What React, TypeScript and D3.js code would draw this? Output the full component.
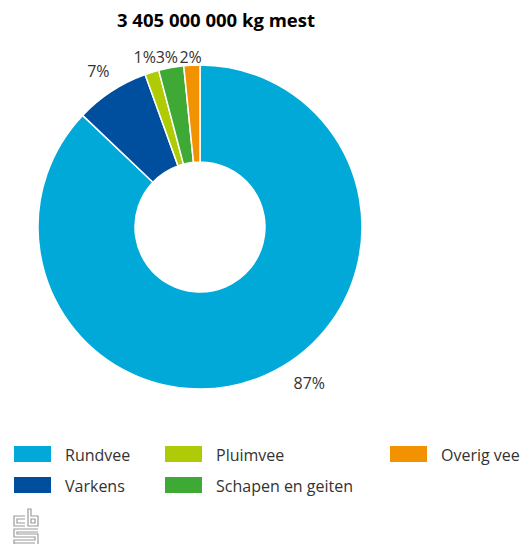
import React, { useEffect, useRef } from "react";
import * as d3 from "d3";

// mest per diercategorie (aandeel in %)
const categories = ["Rundvee", "Varkens", "Pluimvee", "Schapen en geiten", "Overig vee"];
const shares = [87.1, 7.4, 1.4, 2.5, 1.6];
const colors = ["#00a9d8", "#004f9f", "#afcb05", "#3ea934", "#f39200"];
const title = "3 405 000 000 kg mest";

// legend layout: order in which they appear (column-wise)
const legendOrder = [0, 1, 2, 3, 4];

const W = 529;
const H = 544;
const FONT = "'Open Sans', 'Noto Sans', sans-serif";

function App() {
  const svgRef = useRef<SVGSVGElement>(null);

  useEffect(() => {
    const svg = d3.select(svgRef.current);
    svg.selectAll("*").remove();

    const cx = 200;
    const cy = 227;
    const outer = 162;
    const inner = 65;
    const labelR = 186;
    const maxLabelDy = 156;
    const minLabelDy = -170;

    // title
    svg
      .append("text")
      .attr("x", 216)
      .attr("y", 27)
      .attr("text-anchor", "middle")
      .attr("font-family", FONT)
      .attr("font-weight", "bold")
      .attr("font-size", 18.5)
      .attr("fill", "#000")
      .text(title);

    const data = categories.map((c, i) => ({ name: c, value: shares[i], color: colors[i] }));
    const pie = d3
      .pie<any>()
      .value((d) => d.value)
      .sort(null);
    const arcs = pie(data);
    const arc = d3.arc<any>().innerRadius(inner).outerRadius(outer);

    const g = svg.append("g").attr("transform", `translate(${cx},${cy})`);
    g.selectAll("path")
      .data(arcs)
      .join("path")
      .attr("d", arc)
      .attr("fill", (d) => d.data.color)
      .attr("stroke", "#fff")
      .attr("stroke-width", 1.5)
      .attr("stroke-linejoin", "round");

    // labels: mid angle on a circle, y clamped to the plot area
    g.selectAll("text.lbl")
      .data(arcs)
      .join("text")
      .attr("class", "lbl")
      .each(function (d) {
        const a = (d.startAngle + d.endAngle) / 2;
        let dx = Math.sin(a) * labelR;
        let dy = -Math.cos(a) * labelR;
        if (dy > maxLabelDy) {
          dy = maxLabelDy;
          dx = Math.sign(dx) * Math.sqrt(labelR * labelR - dy * dy) + 8;
        }
        if (dy < minLabelDy) dy = minLabelDy;
        d3.select(this).attr("x", dx).attr("y", dy);
      })
      .attr("text-anchor", "middle")
      .attr("dominant-baseline", "central")
      .attr("font-family", FONT)
      .attr("font-size", 16)
      .attr("fill", "#333")
      .text((d) => `${Math.round(d.data.value)}%`);

    // legend (3 columns, 2 rows, filled column by column)
    const colX = [14, 165, 390];
    const rowY = [446, 477];
    const leg = svg.append("g");
    legendOrder.forEach((idx, k) => {
      const col = Math.floor(k / 2);
      const row = k % 2;
      const x = colX[col];
      const y = rowY[row];
      leg
        .append("rect")
        .attr("x", x)
        .attr("y", y)
        .attr("width", 37)
        .attr("height", 16)
        .attr("fill", colors[idx]);
      leg
        .append("text")
        .attr("x", x + 51)
        .attr("y", y + 15)
        .attr("font-family", FONT)
        .attr("font-size", 16)
        .attr("fill", "#333")
        .text(categories[idx]);
    });

    // cbs logo (rough)
    const logo = svg
      .append("g")
      .attr("fill", "none")
      .attr("stroke", "#9a9a9a")
      .attr("stroke-width", 1.2);
    logo.append("path").attr("d", "M25,516 H14 V526 H25 M25,519 H17 V523 H25");
    logo.append("path").attr("d", "M28,509 H31 V516 H38 V526 H28 Z M31,519 H35 V523 H31 Z");
    logo
      .append("path")
      .attr("d", "M38,529 H14 V537 H35 V540 H14 V544 M38,532 H17 V534 H38 V544 M14,543 H35");
  }, []);

  return (
    <svg ref={svgRef} width={W} height={H} style={{ position: "absolute", left: 0, top: 0 }} />
  );
}

export default App;
